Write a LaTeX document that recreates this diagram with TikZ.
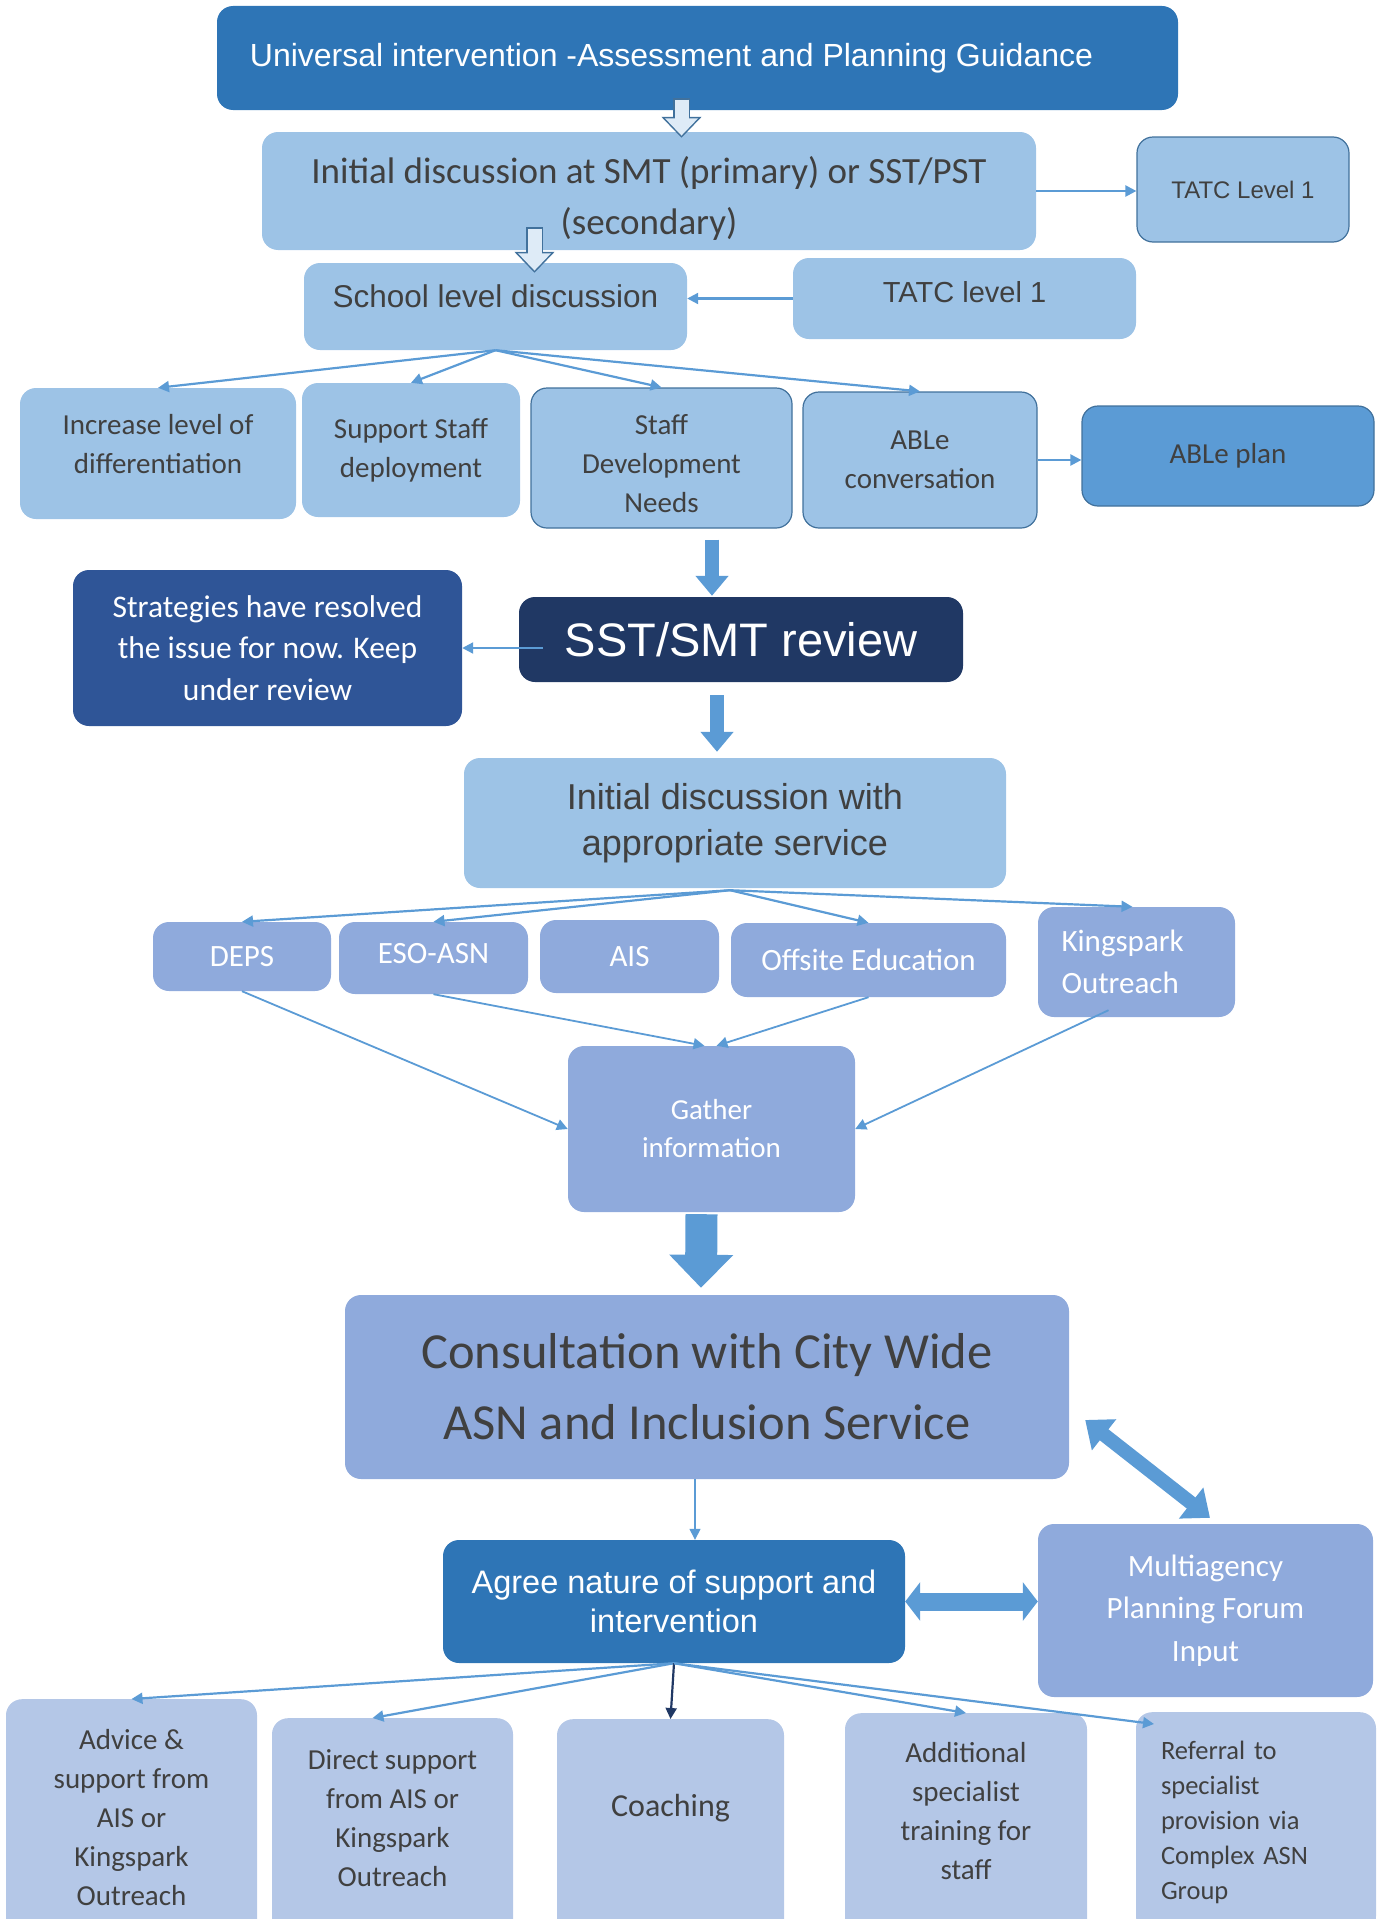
\documentclass[tikz,border=0pt]{standalone}
\usepackage{fontspec}
\setmainfont{Carlito}
\newfontfamily\arial{Liberation Sans}
\usetikzlibrary{arrows.meta,calc,positioning}
\definecolor{TopBlue}{HTML}{2E75B6}
\definecolor{Light}{HTML}{9DC3E6}
\definecolor{Mid}{HTML}{5B9BD5}
\definecolor{Edge}{HTML}{41719C}
\definecolor{Navy}{HTML}{203864}
\definecolor{Strat}{HTML}{2F5597}
\definecolor{Peri}{HTML}{8FAADC}
\definecolor{Pale}{HTML}{B4C7E7}
\definecolor{Ink}{HTML}{404040}
\definecolor{Ice}{HTML}{DEEBF7}
\tikzset{card/.style={rounded corners=16pt,inner sep=3pt,align=center},pale/.style={card,fill=Light,text=Ink},framed/.style={pale,draw=Edge,line width=1.2pt},peri/.style={card,fill=Peri,text=white},ask/.style={card,fill=Pale,text=Ink,anchor=north,font=\fontsize{29}{39}\selectfont},flow/.style={draw=Mid,line width=2.2pt,-{Triangle[length=11pt,width=11pt]}},fat/.style={draw=Mid,line width=14pt,-{Triangle[length=20pt,width=32pt]}},hollow/.style={draw=Edge,line width=17pt,-{Triangle[length=21pt,width=39pt]}},hollowin/.style={draw=Ice,line width=14pt,shorten <=1.5pt,shorten >=2.2pt,-{Triangle[length=17.3pt,width=32pt]}},twoway/.style={draw=Mid,line width=14pt,{Triangle[length=24pt,width=38pt]}-{Triangle[length=24pt,width=38pt]}}}

\begin{document}
\begin{tikzpicture}[x=1pt,y=-1pt]
      \useasboundingbox (0,0) rectangle (1386,1919);
      % school level
      \node[card,fill=TopBlue,text=white,minimum width=961,minimum height=104,font=\arial\fontsize{32}{38}\selectfont](univ) at (697.5,58){Universal intervention -Assessment and Planning Guidance\hspace*{52pt}};
      \node[pale,minimum width=774,minimum height=118,text height=93pt,font=\fontsize{37}{51}\selectfont](smt) at (649,191){Initial discussion at SMT (primary) or SST/PST\\(secondary)};
      \node[framed,minimum width=212,minimum height=105,font=\arial\fontsize{24}{30}\selectfont](tatcA) at (1243,189.5){TATC Level 1};
      \node[pale,minimum width=383,minimum height=87,text depth=20pt,font=\arial\fontsize{31.5}{36}\selectfont](school) at (495.5,306.5){School level discussion};
      \node[pale,minimum width=343,minimum height=81,text depth=14pt,font=\arial\fontsize{29}{35}\selectfont](tatcB) at (964.5,298.5){TATC level 1};
      \node[pale,minimum width=276,minimum height=131,font=\fontsize{29}{39}\selectfont](incr) at (158,453.5){Increase level of\\differentiation\\[-19pt]\mbox{}};
      \node[pale,minimum width=218,minimum height=134,font=\fontsize{29}{39}\selectfont](supp) at (411,450){Support Staff\\deployment};
      \node[framed,minimum width=261,minimum height=140,text height=109pt,font=\fontsize{29}{39}\selectfont](sdev) at (661.5,458){Staff\\Development\\Needs};
      \node[framed,minimum width=234,minimum height=136,font=\fontsize{29}{39}\selectfont](able) at (920,460){ABLe\\conversation};
      \node[card,fill=Mid,draw=Edge,line width=1.2pt,text=Ink,minimum width=292,minimum height=100,font=\fontsize{29}{39}\selectfont](plan) at (1228,456){ABLe plan};
      % review
      \node[card,fill=Navy,text=white,minimum width=444,minimum height=85,font=\arial\fontsize{47}{54}\selectfont](sst) at (741,639.5){SST/SMT review};
      \node[card,fill=Strat,text=white,minimum width=389,minimum height=156,font=\fontsize{31.5}{41.5}\selectfont](strat) at (267.5,648){Strategies have resolved\\the issue for now. Keep\\under review};
      \node[pale,minimum width=542,minimum height=130,font=\arial\fontsize{36}{46}\selectfont](svc) at (735,823){Initial discussion with\\appropriate service};
      % services
      \node[peri,minimum width=178,minimum height=69,font=\fontsize{31}{42}\selectfont](deps) at (242,956.5){DEPS};
      \node[peri,minimum width=189,minimum height=72,text depth=10pt,font=\fontsize{31}{42}\selectfont](eso) at (433.5,958){ESO-ASN};
      \node[peri,minimum width=179,minimum height=73,font=\fontsize{31}{42}\selectfont](ais) at (629.5,956.5){AIS};
      \node[peri,minimum width=275,minimum height=74,font=\fontsize{31}{42}\selectfont](off) at (868.5,960){Offsite Education};
      \node[peri,minimum width=197,minimum height=110,align=left,text width=150,font=\fontsize{31}{42}\selectfont](king) at (1136.5,962){Kingspark\\Outreach};
      \node[peri,minimum width=287,minimum height=166,font=\fontsize{29}{38}\selectfont](gather) at (711.5,1129){Gather\\information};
      % city wide
      \node[peri,text=Ink,minimum width=724,minimum height=184,font=\fontsize{50.5}{71}\selectfont](consult) at (707,1387){Consultation with City Wide\\ASN and Inclusion Service};
      \node[card,fill=TopBlue,text=white,minimum width=462,minimum height=123,font=\arial\fontsize{32.5}{39}\selectfont](agree) at (674,1601.5){Agree nature of support and\\intervention};
      \node[peri,minimum width=335,minimum height=173,font=\fontsize{31}{42.5}\selectfont](multi) at (1205.5,1610.5){Multiagency\\Planning Forum\\Input};
      \node[ask,minimum width=251,minimum height=237](adv) at (131.5,1699){Advice \&\\support from\\AIS or\\Kingspark\\Outreach};
      \node[ask,minimum width=241,minimum height=240](dir) at (392.5,1718){Direct support\\from AIS or\\Kingspark\\Outreach\\[2pt]\mbox{}};
      \node[ask,minimum width=227,minimum height=240,font=\fontsize{32}{39}\selectfont](coach) at (670.5,1719){Coaching\\[29pt]\mbox{}};
      \node[ask,minimum width=242,minimum height=240](addl) at (966,1713){Additional\\specialist\\training for\\staff\\[5pt]\mbox{}};
      \node[ask,minimum width=240,minimum height=220,align=left,text width=190,font=\fontsize{26.5}{35}\selectfont](refer) at (1256,1712){Referral to\\specialist\\provision via\\Complex ASN\\Group};
      % connectors
      \draw[hollow]([xshift=-16pt,yshift=12pt]univ.south)--([xshift=32.5pt,yshift=-6pt]smt.north);\draw[hollowin]([xshift=-16pt,yshift=12pt]univ.south)--([xshift=32.5pt,yshift=-6pt]smt.north);
      \draw[hollow]([xshift=-114.5pt,yshift=23pt]smt.south)--([xshift=39pt,yshift=-10pt]school.north);\draw[hollowin]([xshift=-114.5pt,yshift=23pt]smt.south)--([xshift=39pt,yshift=-10pt]school.north);
      \draw[flow](smt.east)--(smt.east-|tatcA.west);\draw[flow](tatcB.west)--(tatcB.west-|school.east);
      \draw[flow](school.south)--(incr.north);\draw[flow](school.south)--(supp.north);\draw[flow](school.south)--(sdev.north);\draw[flow](school.south)--(able.north);
      \draw[flow](able.east)--(able.east-|plan.west);
      \draw[fat]([xshift=50.5pt,yshift=-11pt]sdev.south)--([xshift=-29pt,yshift=1pt]sst.north);
      \draw[flow]([xshift=24pt]sst.west|-strat.east)--(strat.east);
      \draw[fat]([xshift=-24pt,yshift=-13pt]sst.south)--([xshift=-18pt,yshift=6pt]svc.north);
      \draw[flow]([xshift=-5pt,yshift=-2pt]svc.south)--(deps.north);\draw[flow]([xshift=-5pt,yshift=-2pt]svc.south)--(eso.north);\draw[flow]([xshift=-5pt,yshift=-2pt]svc.south)--(off.north);\draw[flow]([xshift=-5pt,yshift=-2pt]svc.south)--([xshift=-4pt]king.north);
      \draw[flow,line width=1.8pt](deps.south)--(gather.west);\draw[flow,line width=1.8pt](eso.south)--([xshift=-7pt]gather.north);\draw[flow,line width=1.8pt](off.south)--([xshift=5pt]gather.north);\draw[flow,line width=1.8pt]([xshift=-28pt,yshift=7pt]king.south)--(gather.east);
      \draw[draw=Mid,line width=32pt,-{Triangle[length=33pt,width=62pt]}]([xshift=-10pt,yshift=-2pt]gather.south)--([xshift=-6pt,yshift=7pt]consult.north);
      \draw[flow,line width=1.4pt]([xshift=-12pt]consult.south)--([xshift=-12pt]consult.south|-agree.north);
      \draw[twoway]([xshift=16pt,yshift=-33pt]consult.east)--([xshift=4.5pt,yshift=6pt]multi.north);
      \draw[twoway,line width=18pt,{Triangle[length=15pt,width=38pt]}-{Triangle[length=15pt,width=38pt]}](agree.east)--(agree.east-|multi.west);
      \draw[flow](agree.south)--(adv.north);\draw[flow](agree.south)--([xshift=-20pt]dir.north);\draw[flow,draw=Navy](agree.south)--(coach.north);\draw[flow](agree.south)--(addl.north);\draw[flow](agree.south)--([xshift=-102pt,yshift=-12pt]refer.north);
    \end{tikzpicture}
\end{document}
